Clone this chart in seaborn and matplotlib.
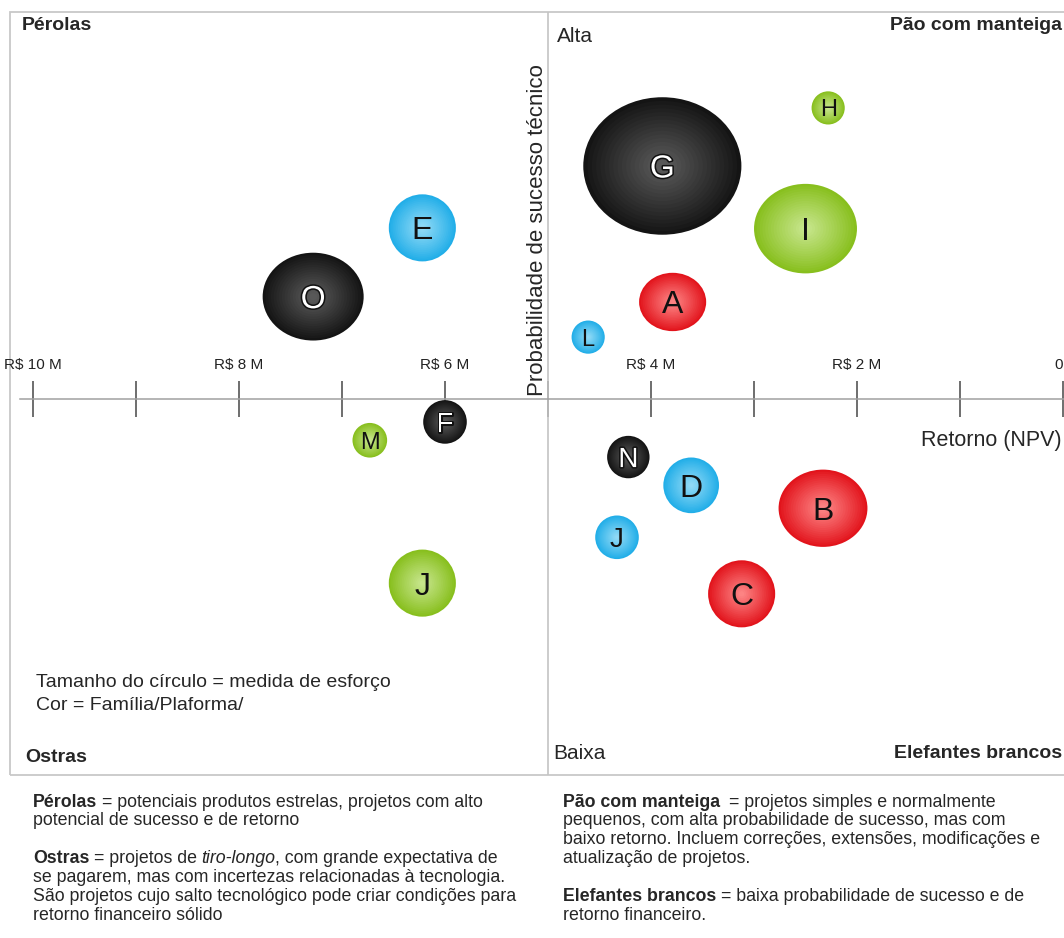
import numpy as np
import pandas as pd
import matplotlib
matplotlib.use("Agg")
import matplotlib.pyplot as plt
import matplotlib.patheffects as pe
from matplotlib.path import Path
from matplotlib.patches import Rectangle
from matplotlib.colors import to_rgb
import seaborn as sns

# ---------------- data ----------------
projetos = ["A", "B", "C", "D", "E", "F", "G", "H", "I", "J", "J", "L", "M", "N", "O"]
familia = ["Vermelha", "Vermelha", "Vermelha", "Azul", "Azul", "Preta", "Preta", "Verde",
           "Verde", "Verde", "Azul", "Azul", "Verde", "Preta", "Preta"]
retorno_M = [3.79, 2.33, 3.12, 3.61, 6.22, 6.00, 3.89, 2.28, 2.50, 6.22, 4.33, 4.61, 6.73, 4.22, 7.28]
prob_sucesso = [62.7, 35.7, 24.5, 38.7, 72.4, 47.0, 80.5, 88.1, 72.3, 25.9, 31.9, 58.1, 44.6, 42.4, 63.4]
esforco = [45, 79, 45, 31, 45, 19, 250, 11, 106, 45, 19, 11, 12, 18, 102]
forma = ["oval", "oval", "redondo", "redondo", "redondo", "redondo", "oval", "redondo",
         "oval", "redondo", "redondo", "redondo", "redondo", "redondo", "oval"]

tick_valores = [0, 1, 2, 3, 4, 5, 6, 7, 8, 9, 10]
tick_rotulos = ["0", "", "R$ 2 M", "", "R$ 4 M", "", "R$ 6 M", "", "R$ 8 M", "", "R$ 10 M"]

cor_borda = {"Preta": "#141414", "Azul": "#22aee8", "Vermelha": "#e2141c", "Verde": "#88bf1e"}
cor_centro = {"Preta": "#5e5e5e", "Azul": "#98ddf7", "Vermelha": "#ff8c8c", "Verde": "#cbe893"}

quadrantes = ["Pérolas", "Pão com manteiga", "Ostras", "Elefantes brancos"]

df = pd.DataFrame({"projeto": projetos, "familia": familia, "retorno": retorno_M,
                   "prob": prob_sucesso, "esforco": esforco, "forma": forma})

# ---------------- style ----------------
sns.set_style("white")
plt.rcParams["font.family"] = ["Liberation Sans", "DejaVu Sans"]

W, H = 1064, 938
fig = plt.figure(figsize=(W / 100, H / 100), dpi=100)
L, R, T, B = 10, 1070, 12, 775
ax = fig.add_axes([L / W, (H - B) / H, (R - L) / W, (B - T) / H])

# oval marker
circ = Path.unit_circle()
oval = Path(circ.vertices * np.array([1.0, 1 / 1.15]), circ.codes)
marcadores = {"oval": oval, "redondo": "o"}

k_area = 51.84
emin, emax = min(esforco), max(esforco)
n_camadas = 18
for i, f in enumerate(np.linspace(1.0, 0.08, n_camadas)):
    t = (1 - f) ** 0.95
    pal = {}
    for fam in cor_borda:
        c0 = np.array(to_rgb(cor_borda[fam]))
        c1 = np.array(to_rgb(cor_centro[fam]))
        pal[fam] = tuple(c0 + (c1 - c0) * t)
    sns.scatterplot(data=df, x="retorno", y="prob", hue="familia", palette=pal,
                    size="esforco", sizes=(k_area * emin * f * f, k_area * emax * f * f),
                    size_norm=(emin, emax), style="forma", markers=marcadores,
                    linewidth=0, legend=False, ax=ax, zorder=3 + i)

for _, r in df.iterrows():
    fs = 23 if r["esforco"] >= 30 else (20 if r["esforco"] >= 15 else 17)
    if r["familia"] == "Preta":
        ax.text(r["retorno"], r["prob"], r["projeto"], ha="center", va="center_baseline",
                fontsize=fs, color="white", zorder=40,
                path_effects=[pe.withStroke(linewidth=2.2, foreground="#111111")])
    else:
        ax.text(r["retorno"], r["prob"], r["projeto"], ha="center", va="center_baseline",
                fontsize=fs, color="#111111", zorder=40)

# ---------------- axes ----------------
ax.set_xlim((1063 - L) / 103, (1063 - R) / 103)
ax.set_ylim(50 - (B - 399) / 7.64, 50 + (399 - T) / 7.64)
ax.set_xlabel("")
ax.set_ylabel("")
ax.set_yticks([])
for s in ["left", "right", "bottom"]:
    ax.spines[s].set_visible(False)
ax.spines["top"].set_position(("data", 50))
ax.spines["top"].set_color("#a0a0a0")
ax.spines["top"].set_linewidth(1.1)
ax.spines["top"].set_bounds((1063 - R) / 103, (1063 - 20) / 103)
ax.xaxis.set_ticks_position("top")
ax.set_xticks(tick_valores, labels=tick_rotulos)
ax.tick_params(axis="x", direction="inout", length=26, width=1.2, color="#555555",
               pad=6.5, labelsize=11, labelcolor="#222222", top=True, bottom=False,
               labeltop=True, labelbottom=False)
for lab in ax.get_xticklabels():
    if lab.get_text() == "0":
        lab.set_horizontalalignment("right")
ax.add_patch(Rectangle((0, 0), 1, 1, transform=ax.transAxes, fill=False,
                       ec="#c8c8c8", lw=1.3, clip_on=False, zorder=0))
ax.axvline(5, color="#c4c4c4", lw=1.2, zorder=1)


def axf(px, py):
    return ((px - L) / (R - L), (B - py) / (B - T))


tk = dict(transform=ax.transAxes, va="center")
ax.text(*axf(22, 26), quadrantes[0], ha="left", fontsize=14, fontweight="bold", **tk)
ax.text(*axf(1062, 26), quadrantes[1], ha="right", fontsize=14, fontweight="bold", **tk)
ax.text(*axf(25, 757), quadrantes[2], ha="left", fontsize=14, fontweight="bold", **tk)
ax.text(*axf(1062, 753), quadrantes[3], ha="right", fontsize=14, fontweight="bold", **tk)
ax.text(*axf(557, 37), "Alta", ha="left", fontsize=15, **tk)
ax.text(*axf(553, 753), "Baixa", ha="left", fontsize=15, **tk)
ax.text(*axf(1062, 440), "Retorno (NPV)", ha="right", fontsize=15.5, **tk)
ax.text(*axf(538, 230), "Probabilidade de sucesso técnico", ha="center", rotation=90,
        fontsize=16, **tk)
ax.text(*axf(36, 682), "Tamanho do círculo = medida de esforço", ha="left", fontsize=14, **tk)
ax.text(*axf(36, 705), "Cor = Família/Plaforma/", ha="left", fontsize=14, **tk)

# ---------------- notes below ----------------
FS = 12.8
esq = [
    [("Pérolas", "bold", "normal"), (" = potenciais produtos estrelas, projetos com alto", "normal", "normal")],
    [("potencial de sucesso e de retorno", "normal", "normal")],
    [("Ostras", "bold", "normal"), (" = projetos de ", "normal", "normal"), ("tiro-longo", "normal", "italic"),
     (", com grande expectativa de", "normal", "normal")],
    [("se pagarem, mas com incertezas relacionadas à tecnologia.", "normal", "normal")],
    [("São projetos cujo salto tecnológico pode criar condições para", "normal", "normal")],
    [("retorno financeiro sólido", "normal", "normal")],
]
dir_ = [
    [("Pão com manteiga", "bold", "normal"), ("  = projetos simples e normalmente", "normal", "normal")],
    [("pequenos, com alta probabilidade de sucesso, mas com", "normal", "normal")],
    [("baixo retorno. Incluem correções, extensões, modificações e", "normal", "normal")],
    [("atualização de projetos.", "normal", "normal")],
    [("Elefantes brancos", "bold", "normal"), (" = baixa probabilidade de sucesso e de", "normal", "normal")],
    [("retorno financeiro.", "normal", "normal")],
]
y_esq = [802, 820, 858, 877, 896, 915]
y_dir = [802, 820, 839, 858, 896, 915]


def linha(xp, yp, partes):
    prev = None
    prev_trail = 0.0
    for txt, w, st in partes:
        gap = 0.0
        if txt.startswith(" "):
            n = len(txt) - len(txt.lstrip(" "))
            gap = 0.25 * FS * n
            txt = txt.lstrip(" ")
        trail = txt.endswith(" ")
        txt = txt.rstrip(" ")
        if prev is None:
            prev = fig.text(xp / W, 1 - yp / H, txt, fontsize=FS, fontweight=w, fontstyle=st,
                            ha="left", va="center")
        else:
            prev = ax.annotate(txt, xy=(1, 0), xycoords=prev, xytext=(gap + prev_trail, 0),
                               textcoords="offset points", fontsize=FS, fontweight=w,
                               fontstyle=st, ha="left", va="bottom", annotation_clip=False)
        prev_trail = 0.25 * FS if trail else 0.0


for partes, yp in zip(esq, y_esq):
    linha(33, yp, partes)
for partes, yp in zip(dir_, y_dir):
    linha(563, yp, partes)

fig.savefig("out.png", dpi=100, facecolor="white")
